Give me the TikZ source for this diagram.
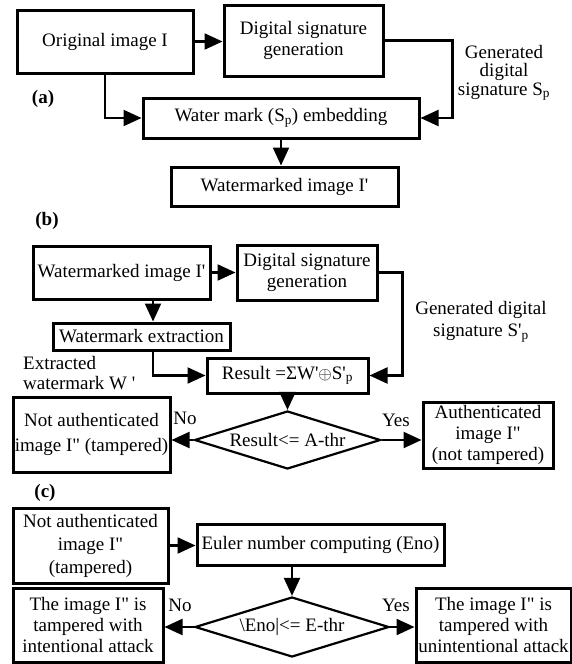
\documentclass[tikz,border=0pt]{standalone}
\usepackage{fontspec}
\setmainfont{Liberation Serif}[Ligatures=TeXOff]
\usepackage{tikz}
\usetikzlibrary{arrows.meta,shapes.geometric}
\tikzset{
    flow-box/.style = {draw, line width=3pt, rectangle, inner sep=0pt, align=center},
    flow-decision/.style = {draw, line width=2.2pt, diamond, aspect=3.2, inner sep=0pt, minimum width=188pt, minimum height=58pt},
    flow-text/.style = {inner sep=0pt, align=center},
    flow-tag/.style = {inner sep=0pt, font=\fontsize{19}{21}\selectfont\bfseries},
    flow-arrow/.style = {line width=2.2pt, -{Triangle[length=18pt,width=16pt]}},
}
\begin{document}
\begin{tikzpicture}[x=1pt, y=-1pt, font=\fontsize{19}{21}\selectfont]
\useasboundingbox (0,0) rectangle (572,664);
% (a)
\node[flow-box, minimum width=176pt, minimum height=63pt] (orig) at (105,41.5) {Original image I};
\node[flow-box, minimum width=159pt, minimum height=71pt] (dsgA) at (303.5,40.5) {Digital signature\\generation};
\node[flow-box, minimum width=276pt, minimum height=40pt] (embed) at (281,118) {Water mark (S\textsubscript{p}) embedding};
\node[flow-box, minimum width=227pt, minimum height=39pt] (wmA) at (284.5,186.5) {Watermarked image I'};
\node[flow-text, font=\fontsize{19}{18.5}\selectfont] (sigA) at (504,73) {Generated\\digital\\signature S\textsubscript{p}};
\node[flow-tag] (tagA) at (43,99) {(a)};
\draw[flow-arrow] (orig.east) -- (orig.east -| dsgA.west);
\draw[flow-arrow] (orig.south) |- (embed.west);
\draw[flow-arrow] (dsgA.east) -- ++(68,0) |- (embed.east);
\draw[flow-arrow] (embed.south) -- (embed.south |- wmA.north);
% (b)
\node[flow-tag] (tagB) at (47,221) {(b)};
\node[flow-box, minimum width=177pt, minimum height=53pt] (wmB) at (121.5,272.5) {Watermarked image I'};
\node[flow-box, minimum width=140pt, minimum height=55pt] (dsgB) at (307,272.5) {Digital signature\\generation};
\node[flow-box, minimum width=177pt, minimum height=27pt] (extr) at (141.5,336.5) {Watermark extraction};
\node[flow-box, minimum width=161pt, minimum height=35pt] (res) at (287.5,375.5) {Result =ΣW'$\oplus$S'\textsubscript{p}};
\node[flow-text, font=\fontsize{19}{22}\selectfont] (sigB) at (481,322) {Generated digital\\signature S'\textsubscript{p}};
\node[flow-text, align=left, anchor=west, font=\fontsize{19}{20}\selectfont] (extW) at (23,373) {Extracted\\watermark W '};
\node[flow-decision, minimum width=186pt] (decA) at (287.5,440) {Result<= A-thr};
\node[flow-box, minimum width=157pt, minimum height=75pt, font=\fontsize{19}{25}\selectfont] (noA) at (91.5,434.5) {Not authenticated\\image I" (tampered)};
\node[flow-box, minimum width=130pt, minimum height=66pt] (yesA) at (488,435) {Authenticated\\image I"\\(not tampered)};
\node[flow-text] (noLabA) at (185,418) {No};
\node[flow-text] (yesLabA) at (396,420) {Yes};
\coordinate (xb) at (153,0);
\draw[flow-arrow] (wmB.east) -- (dsgB.west);
\draw[flow-arrow] (wmB.south -| xb) -- (extr.north -| xb);
\draw[flow-arrow] (extr.south -| xb) |- (res.west);
\draw[flow-arrow] (dsgB.east) -- ++(24,0) |- (res.east);
\draw[flow-arrow] (res.south) -- (decA.north);
\draw[flow-arrow] (decA.west) -- (decA.west -| noA.east);
\draw[flow-arrow] (decA.east) -- (decA.east -| yesA.west);
% (c)
\node[flow-tag] (tagC) at (45,493) {(c)};
\node[flow-box, minimum width=155pt, minimum height=75pt, font=\fontsize{19}{23}\selectfont] (noC) at (90.5,545.5) {Not authenticated\\image I"\\(tampered)};
\node[flow-box, minimum width=247pt, minimum height=41pt] (euler) at (320.5,544.5) {Euler number computing (Eno)};
\node[flow-decision, minimum width=194pt, minimum height=60pt] (decB) at (292,627) {\textbackslash Eno|<= E-thr};
\node[flow-box, minimum width=150pt, minimum height=74pt] (leftC) at (88,625) {The image I" is\\tampered with\\intentional attack};
\node[flow-box, minimum width=155pt, minimum height=74pt] (rightC) at (493.5,625) {The image I" is\\tampered with\\unintentional attack};
\node[flow-text] (noLabC) at (180,605) {No};
\node[flow-text] (yesLabC) at (396,605) {Yes};
\draw[flow-arrow] (noC.east) -- (noC.east -| euler.west);
\draw[flow-arrow] (euler.south -| decB.north) -- (decB.north);
\draw[flow-arrow] (decB.west) -- (decB.west -| leftC.east);
\draw[flow-arrow] (decB.east) -- (decB.east -| rightC.west);
\end{tikzpicture}
\end{document}
